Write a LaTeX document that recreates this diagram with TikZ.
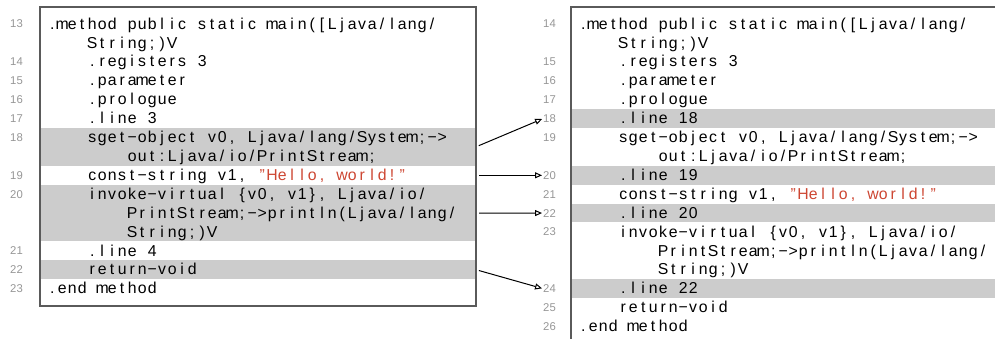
\documentclass[tikz,border=0pt]{standalone}
\usepackage{fontspec}
\setmainfont{Liberation Sans}
\usetikzlibrary{arrows.meta}
\definecolor{bandgray}{RGB}{204,204,204}
\definecolor{numgray}{RGB}{150,150,150}
\definecolor{strred}{RGB}{205,70,50}
\definecolor{framegray}{RGB}{90,90,90}
\newlength\cw \setlength\cw{10pt}
\ExplSyntaxOn
\NewDocumentCommand\fx{m}{
  \str_map_inline:nn {#1}
   { \str_if_eq:nnTF {##1} {-} { \makebox[\cw][c]{\char"2212} } { \makebox[\cw][c]{##1} } }
}
\ExplSyntaxOff
\newcommand\Y[1]{24+18.9*#1}
\newcommand\red[1]{\textcolor{strred}{\fx{#1}}}
\tikzset{
 code/.style={anchor=base west, inner sep=0pt, font=\fontsize{15.8}{18}\selectfont, text=black},
 lnum/.style={anchor=base east, inner sep=0pt, font=\fontsize{11.3}{12}\selectfont, text=numgray},
 band/.style={fill=bandgray, draw=none, inner sep=0pt, outer sep=0pt, anchor=north west},
 frame/.style={draw=framegray, line width=1.1pt},
 link/.style={-{Triangle[open,length=7pt,width=6pt]}, line width=1pt, black, shorten <=3pt, shorten >=1pt}
}
\begin{document}
\begin{tikzpicture}[x=1pt,y=-1pt]
\useasboundingbox (0,0) rectangle (995,339);
% ---------- left listing ----------
\node[band, minimum width=436pt, minimum height=37.8pt] (lb18) at (40,{\Y{6}-9.45}) {};
\node[band, minimum width=436pt, minimum height=56.7pt] (lb20) at (40,{\Y{9}-9.45}) {};
\node[band, minimum width=436pt, minimum height=18.9pt] (lb22) at (40,{\Y{13}-9.45}) {};
\node[frame, inner sep=0pt, outer sep=0pt, anchor=north west, minimum width=436pt, minimum height=299pt] (lbox) at (40,7) {};
\node[code] (la0) at (47,{\Y{0}+5.2}) {\fx{.method public static main([Ljava/lang/}};
\node[code] (la1) at (87,{\Y{1}+5.2}) {\fx{String;)V}};
\node[code] (la2) at (87,{\Y{2}+5.2}) {\fx{.registers 3}};
\node[code] (la3) at (87,{\Y{3}+5.2}) {\fx{.parameter}};
\node[code] (la4) at (87,{\Y{4}+5.2}) {\fx{.prologue}};
\node[code] (la5) at (87,{\Y{5}+5.2}) {\fx{.line 3}};
\node[code] (la6) at (87,{\Y{6}+5.2}) {\fx{sget-object v0, Ljava/lang/System;->}};
\node[code] (la7) at (127,{\Y{7}+5.2}) {\fx{out:Ljava/io/PrintStream;}};
\node[code] (la8) at (87,{\Y{8}+5.2}) {\fx{const-string v1, }\red{"Hello, world!"}};
\node[code] (la9) at (87,{\Y{9}+5.2}) {\fx{invoke-virtual {v0, v1}, Ljava/io/}};
\node[code] (la10) at (127,{\Y{10}+5.2}) {\fx{PrintStream;->println(Ljava/lang/}};
\node[code] (la11) at (127,{\Y{11}+5.2}) {\fx{String;)V}};
\node[code] (la12) at (87,{\Y{12}+5.2}) {\fx{.line 4}};
\node[code] (la13) at (87,{\Y{13}+5.2}) {\fx{return-void}};
\node[code] (la14) at (47,{\Y{14}+5.2}) {\fx{.end method}};
\node[lnum] (l13) at (23,{\Y{0}+4}) {13};
\node[lnum] (l14) at (23,{\Y{2}+4}) {14};
\node[lnum] (l15) at (23,{\Y{3}+4}) {15};
\node[lnum] (l16) at (23,{\Y{4}+4}) {16};
\node[lnum] (l17) at (23,{\Y{5}+4}) {17};
\node[lnum] (l18) at (23,{\Y{6}+4}) {18};
\node[lnum] (l19) at (23,{\Y{8}+4}) {19};
\node[lnum] (l20) at (23,{\Y{9}+4}) {20};
\node[lnum] (l21) at (23,{\Y{12}+4}) {21};
\node[lnum] (l22) at (23,{\Y{13}+4}) {22};
\node[lnum] (l23) at (23,{\Y{14}+4}) {23};
% ---------- right listing ----------
\node[band, minimum width=424pt, minimum height=18.9pt] (rb18) at (571,{\Y{5}-9.45}) {};
\node[band, minimum width=424pt, minimum height=18.9pt] (rb20) at (571,{\Y{8}-9.45}) {};
\node[band, minimum width=424pt, minimum height=18.9pt] (rb22) at (571,{\Y{10}-9.45}) {};
\node[band, minimum width=424pt, minimum height=18.9pt] (rb24) at (571,{\Y{14}-9.45}) {};
\draw[frame] (1000,7) -- (571,7) -- (571,345);
\node[code] (ra0) at (578,{\Y{0}+5.2}) {\fx{.method public static main([Ljava/lang/}};
\node[code] (ra1) at (618,{\Y{1}+5.2}) {\fx{String;)V}};
\node[code] (ra2) at (618,{\Y{2}+5.2}) {\fx{.registers 3}};
\node[code] (ra3) at (618,{\Y{3}+5.2}) {\fx{.parameter}};
\node[code] (ra4) at (618,{\Y{4}+5.2}) {\fx{.prologue}};
\node[code] (ra5) at (618,{\Y{5}+5.2}) {\fx{.line 18}};
\node[code] (ra6) at (618,{\Y{6}+5.2}) {\fx{sget-object v0, Ljava/lang/System;->}};
\node[code] (ra7) at (658,{\Y{7}+5.2}) {\fx{out:Ljava/io/PrintStream;}};
\node[code] (ra8) at (618,{\Y{8}+5.2}) {\fx{.line 19}};
\node[code] (ra9) at (618,{\Y{9}+5.2}) {\fx{const-string v1, }\red{"Hello, world!"}};
\node[code] (ra10) at (618,{\Y{10}+5.2}) {\fx{.line 20}};
\node[code] (ra11) at (618,{\Y{11}+5.2}) {\fx{invoke-virtual {v0, v1}, Ljava/io/}};
\node[code] (ra12) at (658,{\Y{12}+5.2}) {\fx{PrintStream;->println(Ljava/lang/}};
\node[code] (ra13) at (658,{\Y{13}+5.2}) {\fx{String;)V}};
\node[code] (ra14) at (618,{\Y{14}+5.2}) {\fx{.line 22}};
\node[code] (ra15) at (618,{\Y{15}+5.2}) {\fx{return-void}};
\node[code] (ra16) at (578,{\Y{16}+5.2}) {\fx{.end method}};
\node[lnum] (r14) at (556,{\Y{0}+4}) {14};
\node[lnum] (r15) at (556,{\Y{2}+4}) {15};
\node[lnum] (r16) at (556,{\Y{3}+4}) {16};
\node[lnum] (r17) at (556,{\Y{4}+4}) {17};
\node[lnum] (r18) at (556,{\Y{5}+4}) {18};
\node[lnum] (r19) at (556,{\Y{6}+4}) {19};
\node[lnum] (r20) at (556,{\Y{8}+4}) {20};
\node[lnum] (r21) at (556,{\Y{9}+4}) {21};
\node[lnum] (r22) at (556,{\Y{10}+4}) {22};
\node[lnum] (r23) at (556,{\Y{11}+4}) {23};
\node[lnum] (r24) at (556,{\Y{14}+4}) {24};
\node[lnum] (r25) at (556,{\Y{15}+4}) {25};
\node[lnum] (r26) at (556,{\Y{16}+4}) {26};
% ---------- links ----------
\draw[link] (lbox.east |- lb18) -- (r18.west);
\draw[link] (lbox.east |- l19) -- (r20.west);
\draw[link] (lbox.east |- lb20) -- (r22.west);
\draw[link] (lbox.east |- lb22) -- (r24.west);
\end{tikzpicture}
\end{document}
